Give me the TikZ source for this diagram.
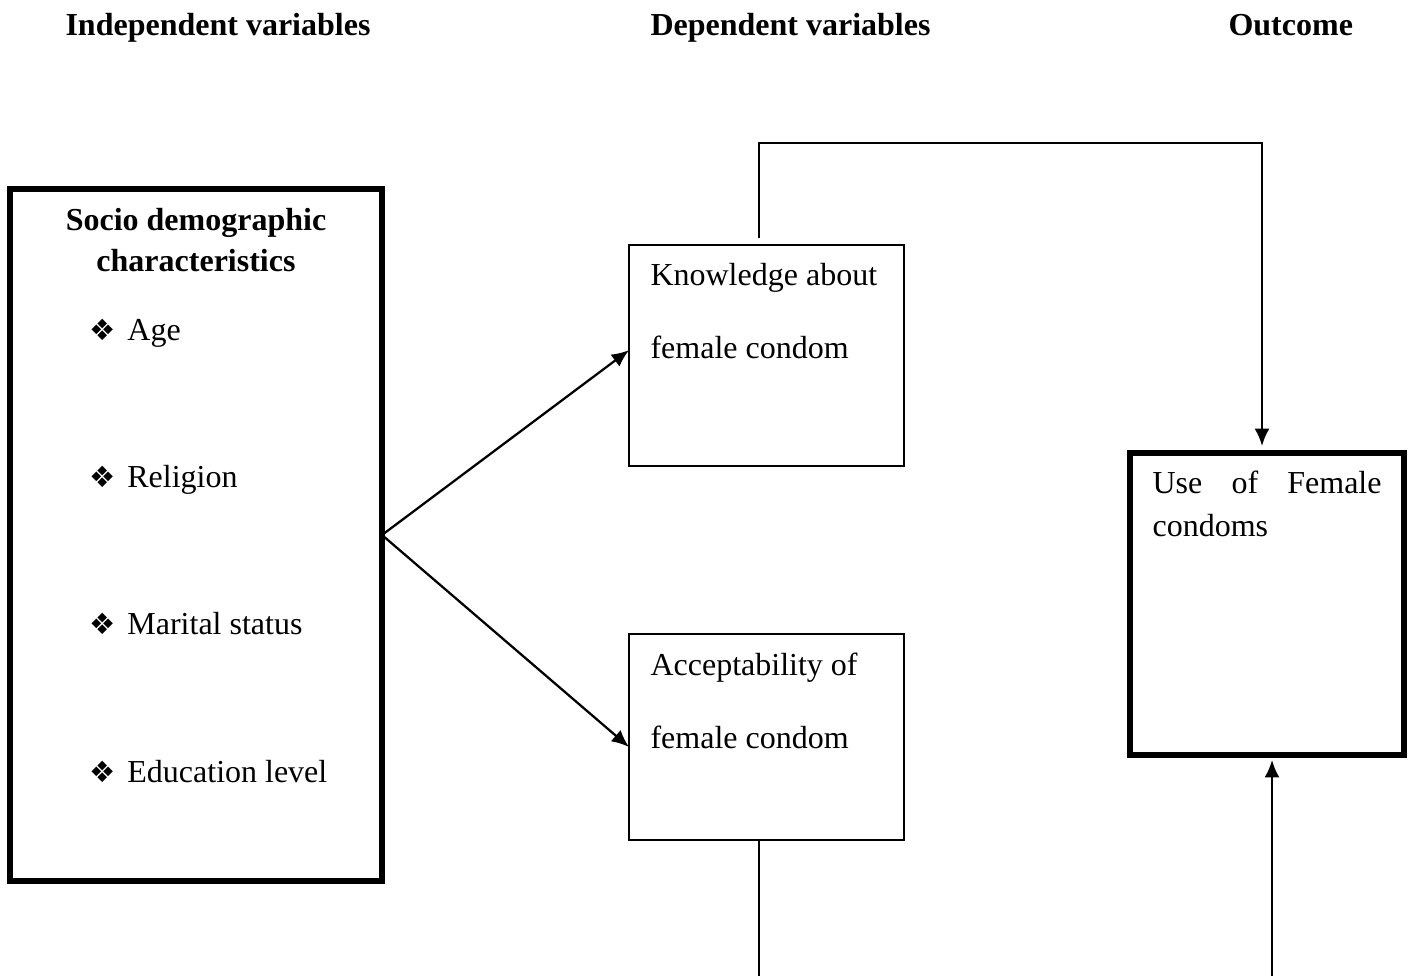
\documentclass[tikz,border=0pt]{standalone}
\usepackage{fontspec}
\setmainfont{Liberation Serif}
\newfontfamily\symfont{DejaVu Sans}
\usetikzlibrary{arrows.meta}
\begin{document}
\begin{tikzpicture}[x=0.375pt,y=-0.375pt,
  font=\fontsize{12pt}{14pt}\selectfont,
  txt/.style={anchor=base west,inner sep=0pt},
  hdr/.style={anchor=base west,inner sep=0pt,font=\fontsize{12pt}{14pt}\selectfont\bfseries},
  thickbox/.style={draw,line width=1.9pt,outer sep=0pt,inner sep=0pt},
  thinbox/.style={draw,line width=0.75pt,outer sep=0pt,inner sep=0pt},
  conn/.style={line width=0.85pt},
  arr/.style={conn,-{Latex[length=6.5pt,width=5.6pt]}}]
\useasboundingbox (0,0) rectangle (1414,976);

% headers
\node[hdr] (h1) at (65,36) {Independent variables};
\node[hdr] (h2) at (650,36) {Dependent variables};
\node[hdr] (h3) at (1228,36) {Outcome};

% boxes
\node[thickbox,minimum width=139.5pt,minimum height=259.5pt] (socio) at (196,535) {};
\node[thinbox,minimum width=103.125pt,minimum height=82.875pt] (know) at (766.5,355.5) {};
\node[thinbox,minimum width=103.125pt,minimum height=77.25pt] (acc) at (766.5,737) {};
\node[thickbox,minimum width=102.75pt,minimum height=113.25pt] (use) at (1267,604) {};

% left box text
\node[anchor=base,inner sep=0pt,font=\fontsize{12pt}{14pt}\selectfont\bfseries] (s1) at (196,231) {Socio demographic};
\node[anchor=base,inner sep=0pt,font=\fontsize{12pt}{14pt}\selectfont\bfseries] (s2) at (196,272) {characteristics};
\node[txt] (b1) at (89,341) {\makebox[14.2pt][l]{\symfont\fontsize{11pt}{12pt}\selectfont ❖}Age};
\node[txt] (b2) at (89,488) {\makebox[14.2pt][l]{\symfont\fontsize{11pt}{12pt}\selectfont ❖}Religion};
\node[txt] (b3) at (89,635) {\makebox[14.2pt][l]{\symfont\fontsize{11pt}{12pt}\selectfont ❖}Marital status};
\node[txt] (b4) at (89,782) {\makebox[14.2pt][l]{\symfont\fontsize{11pt}{12pt}\selectfont ❖}Education level};

% middle texts
\node[txt] (k1t) at (650,286) {Knowledge about};
\node[txt] (k2t) at (650,359) {female condom};
\node[txt] (a1t) at (650,675) {Acceptability of};
\node[txt] (a2t) at (650,749) {female condom};

% outcome text
\node[txt] (u1t) at (1152,494) {\makebox[85.9pt][s]{Use of Female}};
\node[txt] (u2t) at (1152,537) {condoms};

% connectors
\coordinate (kst) at (759,238);
\coordinate (ktop) at (759,143);
\coordinate (uin) at (1262,446);
\coordinate (abot) at (759,976);
\coordinate (ubot) at (1272,976);
\coordinate (uout) at (1272,760);

\draw[arr] (socio.east) -- ([yshift=2pt]know.west);
\draw[arr] (socio.east) -- ([yshift=-3.75pt]acc.west);
\draw[arr] (kst) -- (ktop) -| (uin);
\draw[conn] (acc.south -| abot) -- (abot);
\draw[arr] (ubot) -- (uout);
\end{tikzpicture}
\end{document}
